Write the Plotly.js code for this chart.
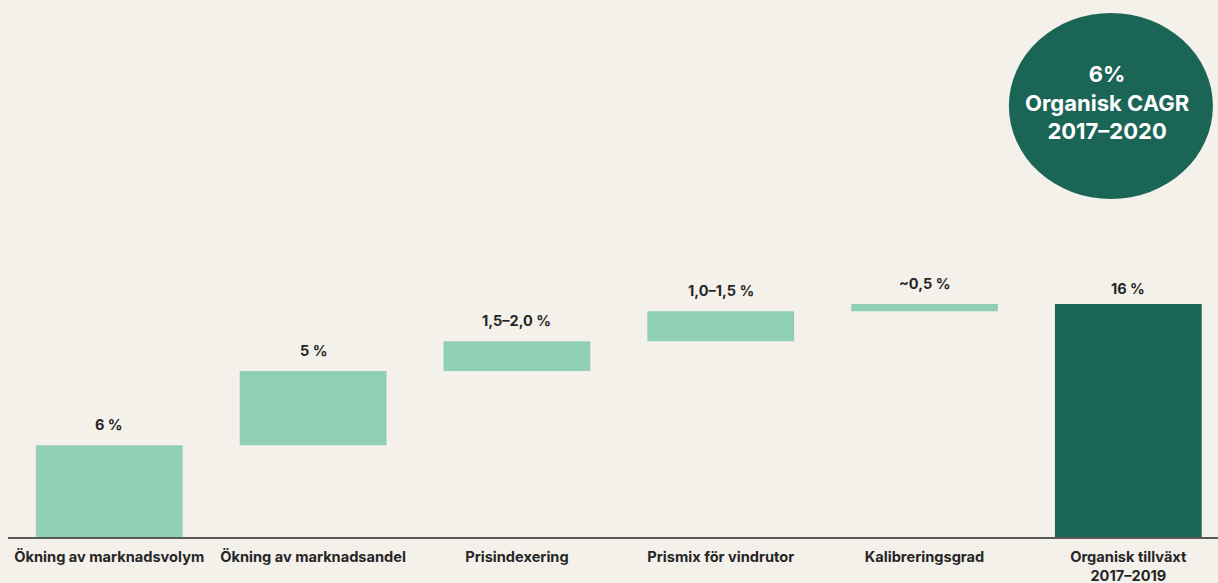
<!DOCTYPE html>
<html>
<head>
<meta charset="utf-8">
<script src="https://cdn.plot.ly/plotly-3.0.1.min.js"></script>
<style>
  html, body { margin: 0; padding: 0; background: #f4f1eb; }
  #chart { width: 1218px; height: 583px; }
</style>
</head>
<body>
<div id="chart"></div>
<script>
const categories = [
  "Ökning av marknadsvolym",
  "Ökning av marknadsandel",
  "Prisindexering",
  "Prismix för vindrutor",
  "Kalibreringsgrad",
  "Organisk tillväxt<br>2017–2019"
];
const values = [6.3, 5.1, 2.05, 2.05, 0.5, 16];
const measures = ["relative", "relative", "relative", "relative", "relative", "total"];
const valueLabels = ["6 %", "5 %", "1,5–2,0 %", "1,0–1,5 %", "~0,5 %", "16 %"];
const bubbleText = ["6%", "Organisk CAGR", "2017–2020"];

const lightGreen = "#8ecfb5";
const darkGreen = "#1b6557";
const textDark = "#262626";
const font = "Inter, 'Noto Sans', sans-serif";

// cumulative tops for labels
const tops = [];
let run = 0;
for (let i = 0; i < values.length; i++) {
  if (measures[i] === "total") { tops.push(run); } else { run += values[i]; tops.push(run); }
}

const trace = {
  type: "waterfall",
  x: categories.map((c, i) => i),
  y: values,
  measure: measures,
  increasing: { marker: { color: lightGreen } },
  decreasing: { marker: { color: lightGreen } },
  totals: { marker: { color: darkGreen } },
  connector: { visible: false },
  textinfo: "none",
  hoverinfo: "skip",
  width: 0.72
};

const annotations = valueLabels.map((t, i) => ({
  x: i, y: tops[i], xref: "x", yref: "y",
  text: "<b>" + t + "</b>", showarrow: false,
  yanchor: "bottom", yshift: i === 5 ? 5 : 10,
  font: { family: font, size: 14.5, color: textDark }
}));

annotations.push({
  x: (4.414 + 5.415) / 2 - 0.02, y: 29.85, xref: "x", yref: "y",
  text: "<b>" + bubbleText.join("<br>") + "</b>", showarrow: false,
  font: { family: font, size: 22, color: "#ffffff" },
  align: "center"
});

const layout = {
  width: 1218, height: 583,
  margin: { l: 8, r: 0, t: 0, b: 46 },
  paper_bgcolor: "#f4f1eb",
  plot_bgcolor: "#f4f1eb",
  showlegend: false,
  xaxis: {
    range: [-0.497, 5.44],
    tickmode: "array",
    tickvals: categories.map((c, i) => i),
    ticktext: categories.map(c => "<b>" + c + "</b>"),
    tickfont: { family: font, size: 14.6, color: textDark },
    showgrid: false, zeroline: false,
    showline: true, linecolor: "#5a5a5a", linewidth: 2,
    ticks: "", ticklabelstandoff: 5,
    fixedrange: true
  },
  yaxis: {
    range: [0, 36.88],
    visible: false, showgrid: false, zeroline: false, fixedrange: true
  },
  shapes: [{
    type: "circle", xref: "x", yref: "y",
    x0: 4.414, x1: 5.415, y0: 23.21, y1: 35.99,
    fillcolor: darkGreen, line: { width: 0 }, layer: "below"
  }],
  annotations: annotations
};

Plotly.newPlot("chart", [trace], layout, { displayModeBar: false, staticPlot: true });
</script>
</body>
</html>
